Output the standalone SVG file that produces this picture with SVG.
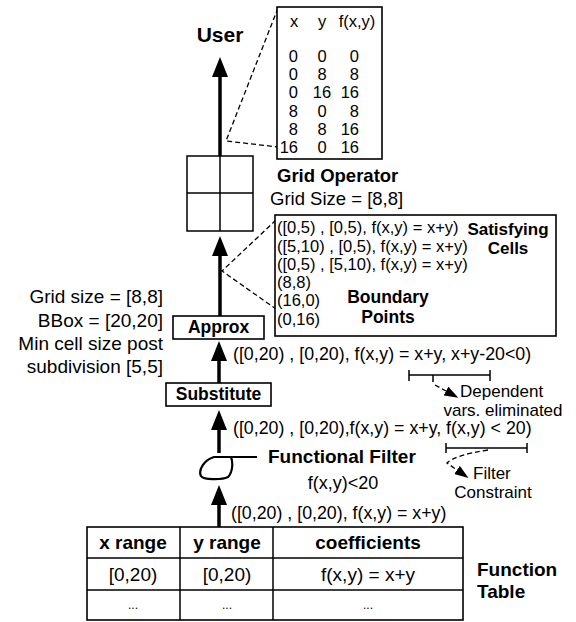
<svg xmlns="http://www.w3.org/2000/svg" width="576" height="622" viewBox="0 0 576 622">
<style>
text { font-family: "Liberation Sans", Arial, Helvetica, sans-serif; fill: #000; }
.b { font-weight: bold; }
.box { fill: #fff; stroke: #000; stroke-width: 1.6; }
.thin { fill: none; stroke: #000; stroke-width: 1.5; }
.dash { fill: none; stroke: #000; stroke-width: 1.3; stroke-dasharray: 5 3; }
.main { fill: none; stroke: #000; stroke-width: 3.5; }
.m { font-size: 17.8px; }
.s { font-size: 16.5px; }
.n { font-size: 17px; }
</style>
<defs>
<marker id="ah" viewBox="0 0 20 16" markerWidth="20" markerHeight="16" markerUnits="userSpaceOnUse" refX="0" refY="8" orient="auto">
<path d="M0,0 L20,8 L0,16 z" fill="#000"/>
</marker>
<marker id="sah" viewBox="0 0 14 10" markerWidth="14" markerHeight="10" markerUnits="userSpaceOnUse" refX="0" refY="5" orient="auto">
<path d="M0,0 L14,5 L0,10 z" fill="#000"/>
</marker>
</defs>

<g id="connectors">
<line class="main" x1="220" y1="156" x2="220" y2="77" marker-end="url(#ah)"/>
<line class="main" x1="220" y1="316" x2="220" y2="256" marker-end="url(#ah)"/>
<line class="main" x1="219" y1="383" x2="219" y2="361" marker-end="url(#ah)"/>
<line class="main" x1="219" y1="453" x2="219" y2="430" marker-end="url(#ah)"/>
<line class="main" x1="219" y1="527" x2="219" y2="505" marker-end="url(#ah)"/>
<polyline class="dash" points="278,8 226,141 278,147"/>
<polyline class="dash" points="276,220 222,271 276,309"/>
</g>

<g id="user">
<text class="b" x="220" y="42" font-size="21" text-anchor="middle">User</text>
</g>

<g id="result-table">
<rect class="box" x="277" y="7" width="105" height="152"/>
<text class="s" x="294" y="27" text-anchor="middle">x</text>
<text class="s" x="322" y="27" text-anchor="middle">y</text>
<text class="s" x="357" y="27" text-anchor="middle">f(x,y)</text>
<g class="s">
<text x="298" y="62" text-anchor="end">0</text><text x="322" y="62" text-anchor="middle">0</text><text x="359" y="62" text-anchor="end">0</text>
<text x="298" y="80" text-anchor="end">0</text><text x="322" y="80" text-anchor="middle">8</text><text x="359" y="80" text-anchor="end">8</text>
<text x="298" y="98" text-anchor="end">0</text><text x="322" y="98" text-anchor="middle">16</text><text x="359" y="98" text-anchor="end">16</text>
<text x="298" y="117" text-anchor="end">8</text><text x="322" y="117" text-anchor="middle">0</text><text x="359" y="117" text-anchor="end">8</text>
<text x="298" y="135" text-anchor="end">8</text><text x="322" y="135" text-anchor="middle">8</text><text x="359" y="135" text-anchor="end">16</text>
<text x="298" y="153" text-anchor="end">16</text><text x="322" y="153" text-anchor="middle">0</text><text x="359" y="153" text-anchor="end">16</text>
</g>
</g>

<g id="grid-operator">
<rect class="thin" x="187" y="156" width="66" height="75"/>
<line class="thin" x1="220" y1="156" x2="220" y2="231"/>
<line class="thin" x1="187" y1="193" x2="253" y2="193"/>
<text class="b" x="277" y="182" font-size="18.5">Grid Operator</text>
<text x="270" y="205" font-size="18.5">Grid Size = [8,8]</text>
</g>

<g id="satisfying-cells">
<rect class="box" x="275" y="215" width="281" height="121"/>
<g class="s">
<text x="277" y="233">([0,5) , [0,5), f(x,y) = x+y)</text>
<text x="277" y="251.5">([5,10) , [0,5), f(x,y) = x+y)</text>
<text x="277" y="270">([0,5) , [5,10), f(x,y) = x+y)</text>
<text x="277" y="288">(8,8)</text>
<text x="277" y="306">(16,0)</text>
<text x="277" y="325">(0,16)</text>
</g>
<text class="b" x="508" y="234.5" font-size="17" text-anchor="middle">Satisfying</text>
<text class="b" x="508" y="254" font-size="17" text-anchor="middle">Cells</text>
<text class="b" x="388" y="303" font-size="17.5" text-anchor="middle">Boundary</text>
<text class="b" x="388" y="323" font-size="17.5" text-anchor="middle">Points</text>
</g>

<g id="approx">
<rect class="box" x="173" y="316" width="91" height="23"/>
<text class="b" x="218.5" y="333" font-size="17.5" text-anchor="middle">Approx</text>
<g font-size="19" text-anchor="end">
<text x="163" y="303">Grid size = [8,8]</text>
<text x="163" y="327">BBox = [20,20]</text>
<text x="163" y="350">Min cell size post</text>
<text x="163" y="373">subdivision [5,5]</text>
</g>
</g>

<g id="substitute">
<rect class="box" x="166" y="383" width="105" height="23"/>
<text class="b" x="218.5" y="400" font-size="17.5" text-anchor="middle">Substitute</text>
</g>

<g id="label-approx">
<text class="m" x="233" y="360">([0,20) , [0,20), f(x,y) = x+y, x+y-20&lt;0)</text>
<line class="thin" x1="409" y1="370" x2="409" y2="381"/>
<line class="thin" x1="490" y1="370" x2="490" y2="381"/>
<line class="thin" x1="409" y1="375" x2="490" y2="375"/>
<line class="thin" x1="433" y1="375" x2="433" y2="382"/>
<line class="dash" x1="435" y1="385" x2="446" y2="391" marker-end="url(#sah)"/>
<text class="n" x="460" y="396.5">Dependent</text>
<text class="n" x="503" y="416" text-anchor="middle">vars. eliminated</text>
</g>

<g id="label-substitute">
<text class="m" x="233" y="434">([0,20) , [0,20),f(x,y) = x+y, f(x,y) &lt; 20)</text>
<line class="thin" x1="446" y1="443" x2="446" y2="453"/>
<line class="thin" x1="527" y1="443" x2="527" y2="453"/>
<line class="thin" x1="446" y1="448" x2="527" y2="448"/>
<path class="dash" d="M488,450 Q455,455 447,463 L457,470" marker-end="url(#sah)"/>
<text class="n" x="473" y="479">Filter</text>
<text class="n" x="493" y="498" text-anchor="middle">Constraint</text>
</g>

<g id="functional-filter">
<path d="M257,457 L214,457 C204,460 198,470 201,476 C203,480 222,480 228,477 C233,472 233,462 231,457" fill="none" stroke="#000" stroke-width="2.2"/>
<text class="b" x="268" y="463" font-size="19">Functional Filter</text>
<text x="343" y="489" font-size="18" text-anchor="middle">f(x,y)&lt;20</text>
</g>

<g id="label-filter">
<text class="m" x="231" y="519">([0,20) , [0,20), f(x,y) = x+y)</text>
</g>

<g id="function-table">
<rect class="box" x="87" y="527" width="376" height="93"/>
<line class="thin" x1="87" y1="558" x2="463" y2="558"/>
<line class="thin" x1="87" y1="590" x2="463" y2="590"/>
<line class="thin" x1="180" y1="527" x2="180" y2="620"/>
<line class="thin" x1="273" y1="527" x2="273" y2="620"/>
<g font-size="19" text-anchor="middle">
<text class="b" x="133" y="549">x range</text>
<text class="b" x="227" y="549">y range</text>
<text class="b" x="368" y="549">coefficients</text>
<text x="133" y="581">[0,20)</text>
<text x="227" y="581">[0,20)</text>
<text x="368" y="581">f(x,y) = x+y</text>
</g>
<g font-size="12" text-anchor="middle">
<text x="133" y="609">...</text>
<text x="227" y="609">...</text>
<text x="368" y="609">...</text>
</g>
<text class="b" x="477" y="576" font-size="19">Function</text>
<text class="b" x="477" y="598" font-size="19">Table</text>
</g>
</svg>
